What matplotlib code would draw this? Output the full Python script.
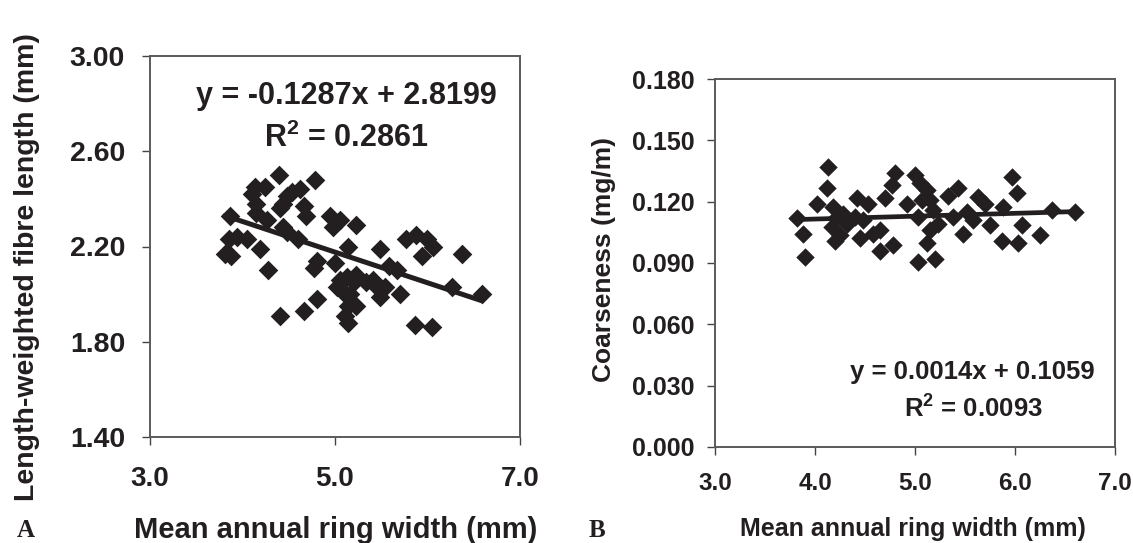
import matplotlib
matplotlib.use("Agg")
import matplotlib.pyplot as plt
import numpy as np

plt.rcParams["mathtext.fontset"] = "custom"
plt.rcParams["mathtext.bf"] = "Liberation Sans:bold"
plt.rcParams["mathtext.rm"] = "Liberation Sans:bold"

# ---- Panel A data: ring width (mm) vs length-weighted fibre length (mm)
ringA = [4.39, 4.78, 4.14, 4.24, 4.10, 4.15, 4.53, 4.62, 4.48, 4.44,
         4.41, 4.66, 4.69, 3.86, 4.15, 4.26, 4.44, 4.48, 4.60, 4.95,
         5.05, 4.98, 5.23, 3.85, 3.94, 4.05, 3.81, 3.88, 4.19, 4.28,
         5.14, 5.49, 5.77, 5.88, 5.99, 6.06, 5.94, 6.37, 4.80, 4.77,
         5.00, 5.58, 5.67, 5.05, 5.13, 5.20, 5.02, 5.09, 5.16, 5.23,
         5.34, 5.41, 5.45, 5.49, 5.54, 5.70, 6.26, 6.59, 4.41, 4.66,
         4.80, 5.14, 5.11, 5.23, 5.14, 5.86, 6.05]
fibre = [2.50, 2.48, 2.45, 2.45, 2.42, 2.38, 2.43, 2.44, 2.41, 2.38,
         2.36, 2.37, 2.33, 2.33, 2.34, 2.31, 2.28, 2.26, 2.23, 2.33,
         2.31, 2.28, 2.29, 2.23, 2.24, 2.23, 2.17, 2.16, 2.19, 2.10,
         2.20, 2.19, 2.23, 2.25, 2.23, 2.20, 2.16, 2.17, 2.14, 2.11,
         2.13, 2.12, 2.10, 2.06, 2.07, 2.05, 2.03, 2.01, 2.00, 2.08,
         2.05, 2.06, 2.03, 1.99, 2.03, 2.00, 2.03, 2.00, 1.91, 1.93,
         1.98, 1.95, 1.91, 1.95, 1.88, 1.87, 1.86]
slopeA, interceptA, r2A = -0.1287, 2.8199, 0.2861

# ---- Panel B data: ring width (mm) vs coarseness (mg/m)
ringB = [4.13, 4.12, 4.02, 3.82, 3.88, 3.90, 4.18, 4.22, 4.17, 4.25,
         4.20, 4.28, 4.32, 4.42, 4.40, 4.48, 4.53, 4.45, 4.58, 4.65,
         4.65, 4.78, 4.70, 4.77, 4.80, 4.92, 5.00, 5.05, 5.03, 5.12,
         5.15, 5.07, 5.18, 5.23, 5.15, 5.12, 5.03, 5.20, 5.33, 5.43,
         5.38, 5.48, 5.52, 5.58, 5.63, 5.70, 5.75, 5.87, 5.88, 5.97,
         6.02, 6.07, 6.03, 6.25, 6.37, 6.60]
coarse = [0.137, 0.1265, 0.119, 0.112, 0.104, 0.093, 0.1175, 0.1126, 0.1077, 0.1036,
          0.101, 0.114, 0.109, 0.122, 0.1126, 0.111, 0.119, 0.102, 0.104, 0.106,
          0.096, 0.099, 0.1216, 0.128, 0.134, 0.119, 0.133, 0.129, 0.1126, 0.1257,
          0.1208, 0.1208, 0.116, 0.109, 0.106, 0.100, 0.0906, 0.0922, 0.123, 0.1265,
          0.1126, 0.104, 0.115, 0.111, 0.1224, 0.119, 0.1085, 0.101, 0.1175, 0.132,
          0.124, 0.1085, 0.100, 0.1036, 0.116, 0.115]
slopeB, interceptB, r2B = 0.0014, 0.1059, 0.0093

xticksA = [3.0, 5.0, 7.0]
yticksA = [1.40, 1.80, 2.20, 2.60, 3.00]
xticksB = [3.0, 4.0, 5.0, 6.0, 7.0]
yticksB = [0.000, 0.030, 0.060, 0.090, 0.120, 0.150, 0.180]

INK = "#231f20"
SANS = "Liberation Sans"
SERIF = "Liberation Serif"

W, H = 1133, 543
fig = plt.figure(figsize=(W / 100, H / 100), dpi=100)
fig.patch.set_facecolor("white")


def px_axes(l, t, r, b):
    return fig.add_axes([l / W, 1 - b / H, (r - l) / W, (b - t) / H])


def style(ax, xfs, yfs, xpad, ypad):
    for s in ax.spines.values():
        s.set_color("#5a5a5a")
        s.set_linewidth(1.4)
    ax.tick_params(axis="x", direction="out", length=6, width=1, color="#444",
                   pad=xpad)
    ax.tick_params(axis="y", direction="out", length=6, width=1, color="#444",
                   pad=ypad)
    for lab in ax.get_xticklabels():
        lab.set_fontfamily(SANS); lab.set_fontweight("bold")
        lab.set_fontsize(xfs); lab.set_color(INK)
    for lab in ax.get_yticklabels():
        lab.set_fontfamily(SANS); lab.set_fontweight("bold")
        lab.set_fontsize(yfs); lab.set_color(INK)


def r2_text(ax, x, y, val, fs):
    ax.text(x, y, f"R$^{{\\mathbf{{2}}}}$ = {val:.4f}", transform=ax.transAxes,
            ha="center", va="center", fontsize=fs, fontweight="bold",
            family=SANS, color=INK)


# ---------------- Panel A
axA = px_axes(150, 56, 520, 437)
axA.scatter(ringA, fibre, marker="D", s=100, color=INK, linewidths=0, zorder=3)
xa = np.array([min(ringA), max(ringA)])
axA.plot(xa, slopeA * xa + interceptA, color=INK, lw=3.6, zorder=4,
         solid_capstyle="round")
axA.set_xlim(3.0, 7.0)
axA.set_ylim(1.40, 3.00)
axA.set_xticks(xticksA)
axA.set_xticklabels([f"{v:.1f}" for v in xticksA])
axA.set_yticks(yticksA)
axA.set_yticklabels([f"{v:.2f}" for v in yticksA])
style(axA, 20, 20.5, 15, 12)
axA.text(0.53, 0.895, f"y = {slopeA:.4f}x + {interceptA:.4f}", transform=axA.transAxes,
         ha="center", va="center", fontsize=22, fontweight="bold",
         family=SANS, color=INK)
r2_text(axA, 0.53, 0.785, r2A, 22)

# ---------------- Panel B
axB = px_axes(715, 79, 1115, 447)
axB.scatter(ringB, coarse, marker="D", s=88, color=INK, linewidths=0, zorder=3)
xb = np.array([min(ringB), max(ringB)])
axB.plot(xb, slopeB * xb + interceptB, color=INK, lw=3.4, zorder=4,
         solid_capstyle="round")
axB.set_xlim(3.0, 7.0)
axB.set_ylim(0.0, 0.18)
axB.set_xticks(xticksB)
axB.set_xticklabels([f"{v:.1f}" for v in xticksB])
axB.set_yticks(yticksB)
axB.set_yticklabels([f"{v:.3f}" for v in yticksB])
style(axB, 17.5, 18, 12, 9)
axB.text(0.643, 0.205, f"y = {slopeB:.4f}x + {interceptB:.4f}", transform=axB.transAxes,
         ha="center", va="center", fontsize=18.5, fontweight="bold",
         family=SANS, color=INK)
r2_text(axB, 0.645, 0.108, r2B, 18.5)

# ---------------- axis labels
fig.text(27 / W, 1 - 267 / H, "Length-weighted fibre length (mm)", rotation=90,
         ha="center", va="center", fontsize=20.5, fontweight="bold",
         family=SANS, color=INK)
fig.text(604 / W, 1 - 260 / H, "Coarseness (mg/m)", rotation=90,
         ha="center", va="center", fontsize=19, fontweight="bold",
         family=SANS, color=INK)
fig.text(336 / W, 1 - 538 / H, "Mean annual ring width (mm)",
         ha="center", va="baseline", fontsize=21, fontweight="bold",
         family=SANS, color=INK)
fig.text(913 / W, 1 - 536 / H, "Mean annual ring width (mm)",
         ha="center", va="baseline", fontsize=18, fontweight="bold",
         family=SANS, color=INK)
fig.text(26 / W, 1 - 537 / H, "A", ha="center", va="baseline", fontsize=18,
         fontweight="bold", family=SERIF, color=INK)
fig.text(597 / W, 1 - 537 / H, "B", ha="center", va="baseline", fontsize=18,
         fontweight="bold", family=SERIF, color=INK)

fig.savefig("out.png", dpi=100, facecolor="white")
